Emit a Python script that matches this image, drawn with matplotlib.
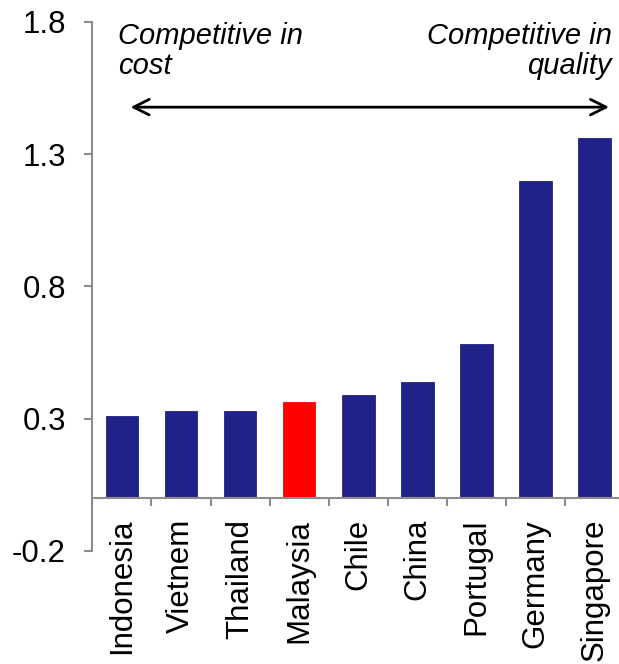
import matplotlib
matplotlib.use("Agg")
import matplotlib.pyplot as plt
import numpy as np

plt.rcParams['font.family'] = ['Liberation Sans', 'DejaVu Sans']

# Index values per country, lowest to highest
countries = ["Indonesia", "Vietnem", "Thailand", "Malaysia", "Chile",
             "China", "Portugal", "Germany", "Singapore"]
values = [0.309, 0.328, 0.328, 0.362, 0.391, 0.439, 0.582, 1.200, 1.361]
highlight = "Malaysia"
y_ticks = [-0.2, 0.3, 0.8, 1.3, 1.8]

navy = "#212288"
grey = "#8c8c8c"

fig = plt.figure(figsize=(6.19, 6.64), dpi=100)
# axes run slightly past the right edge, as in the original slide
ax = fig.add_axes([0.1491, 0.1702, 0.8594, 0.7967])

x = np.arange(len(countries))
colors = ["#ff0000" if c == highlight else navy for c in countries]
ax.bar(x, values, width=0.55, color=colors, edgecolor=colors, linewidth=0.6)

ax.set_xlim(-0.5, len(countries) - 0.5)
ax.set_ylim(-0.2, 1.8)
ax.set_yticks(y_ticks)
ax.set_yticklabels([f"{v:.1f}" for v in y_ticks])

# x axis sits on zero, ticks between the categories
ax.spines['bottom'].set_position(('data', 0))
ax.spines['bottom'].set_color(grey)
ax.spines['bottom'].set_linewidth(1.5)
ax.spines['left'].set_color(grey)
ax.spines['left'].set_linewidth(1.5)
ax.spines['top'].set_visible(False)
ax.spines['right'].set_visible(False)

ax.set_xticks(x)
ax.set_xticklabels(countries, rotation=90, va='top', ha='center')
ax.set_xticks(np.arange(-0.5, len(countries)), minor=True)
ax.tick_params(axis='x', which='major', length=0, pad=15, labelsize=22.5)
ax.tick_params(axis='x', which='minor', length=6, width=1.5, color=grey,
               direction='out')
ax.tick_params(axis='y', length=6, width=1.5, color=grey, pad=13,
               labelsize=22.5)

# cost vs quality arrow and captions
ax.annotate("", xy=(0.1, 1.478), xytext=(8.29, 1.478),
            arrowprops=dict(arrowstyle="<->", color="black", lw=2,
                            mutation_scale=28))
ax.text(-0.065, 1.80, "Competitive in\ncost", style='italic', fontsize=21,
        ha='left', va='top', linespacing=1.1)
ax.text(8.29, 1.80, "Competitive in\nquality", style='italic', fontsize=21,
        ha='right', va='top', linespacing=1.1)

fig.savefig("out.png", dpi=100)
